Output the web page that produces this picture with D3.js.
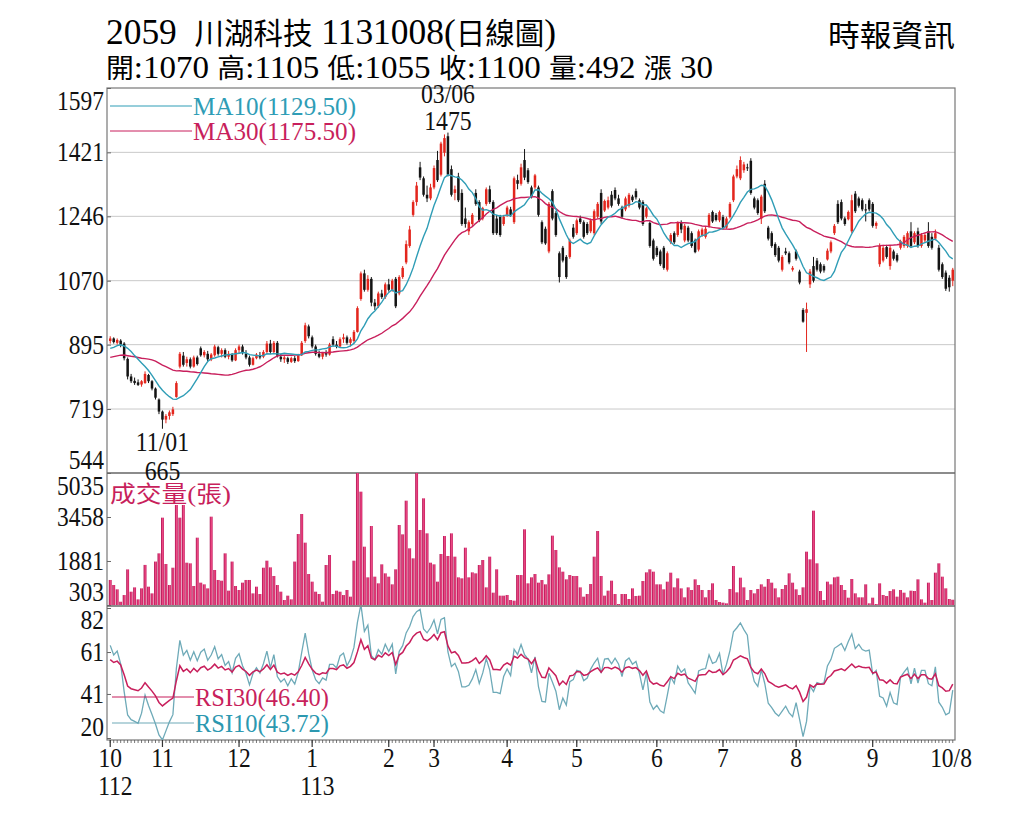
<!DOCTYPE html>
<html>
<head>
<meta charset="utf-8">
<script src="https://cdn.jsdelivr.net/npm/d3@7"></script>
<style>
  body { margin: 0; background: #fff; }
  svg text { font-family: "Liberation Serif", "Noto Sans CJK TC", serif; }
  .cjk { font-family: "Noto Sans CJK TC", sans-serif; }
</style>
</head>
<body>
<div id="chart"></div>
<script>
// daily candles [open, high, low, close] (2023/10 .. 2024/10/08)
const ohlc = [
  [905,918,898,912],[912,915,898,902],[900,912,895,908],[906,910,888,895],[898,902,852,858],
  [856,860,800,808],[808,815,790,795],[796,805,785,790],[792,800,782,785],[786,798,780,795],
  [790,822,788,815],[812,815,790,795],[795,798,770,775],[775,778,745,750],[745,748,705,712],
  [712,715,665,690],[690,705,680,700],[700,715,690,710],[705,725,700,718],[752,795,750,790],
  [835,875,830,870],[865,875,835,840],[845,862,835,855],[855,860,830,835],[835,865,832,860],
  [860,865,838,842],[885,890,862,866],[866,880,860,875],[870,878,850,855],[855,872,850,868],
  [866,895,862,890],[888,892,865,870],[870,885,860,880],[880,885,858,862],[862,878,855,870],
  [868,872,848,852],[852,885,850,880],[880,895,870,890],[890,895,868,872],[870,880,855,860],
  [860,865,835,840],[840,862,838,858],[858,872,855,868],[866,875,855,860],[862,880,858,875],
  [875,905,870,898],[898,908,870,875],[875,905,872,900],[900,905,860,865],[862,870,848,855],
  [855,866,845,860],[858,862,842,848],[848,862,845,858],[858,864,845,850],[850,870,848,866],
  [866,905,864,900],[905,955,900,948],[945,950,912,918],[915,920,885,890],[890,895,865,870],
  [870,878,858,862],[862,875,855,872],[872,880,862,868],[868,900,865,895],[910,918,890,895],
  [895,905,885,890],[890,915,888,910],[910,925,900,915],[915,920,895,900],[900,915,890,910],
  [905,935,900,930],[930,1000,928,995],[1020,1095,1015,1090],[1090,1100,1040,1045],[1045,1085,1040,1075],
  [1075,1080,1000,1010],[1010,1020,990,1000],[1000,1040,995,1035],[1035,1045,1020,1025],[1025,1065,1020,1060],
  [1060,1075,1040,1045],[1045,1075,1040,1070],[1075,1080,995,1000],[1035,1085,1030,1080],[1080,1110,1075,1105],
  [1120,1180,1115,1170],[1165,1220,1160,1210],[1250,1290,1245,1285],[1285,1340,1275,1330],[1380,1395,1345,1352],
  [1350,1355,1300,1305],[1305,1330,1285,1295],[1295,1335,1290,1325],[1325,1385,1320,1378],[1400,1425,1340,1345],
  [1360,1450,1355,1445],[1420,1470,1410,1460],[1465,1475,1355,1360],[1375,1385,1300,1305],[1310,1330,1290,1320],
  [1355,1365,1285,1290],[1310,1320,1220,1225],[1240,1270,1215,1225],[1205,1235,1195,1230],[1225,1255,1220,1250],
  [1310,1320,1275,1280],[1285,1290,1230,1235],[1240,1272,1235,1268],[1280,1325,1275,1320],[1320,1330,1280,1285],
  [1285,1290,1195,1200],[1240,1250,1195,1200],[1245,1250,1190,1195],[1225,1250,1220,1245],[1250,1275,1245,1270],
  [1265,1272,1245,1250],[1230,1355,1225,1350],[1345,1360,1320,1335],[1335,1390,1330,1380],[1400,1430,1345,1352],
  [1372,1378,1335,1340],[1325,1330,1295,1300],[1325,1362,1320,1358],[1325,1330,1245,1250],[1230,1235,1170,1175],
  [1212,1218,1168,1172],[1150,1285,1145,1280],[1315,1320,1235,1240],[1255,1260,1190,1195],[1145,1150,1065,1080],
  [1160,1165,1120,1125],[1135,1140,1075,1080],[1135,1185,1130,1180],[1215,1225,1185,1190],[1200,1240,1195,1235],
  [1240,1248,1225,1230],[1230,1235,1185,1190],[1225,1230,1195,1200],[1205,1240,1200,1235],[1200,1265,1195,1260],
  [1245,1285,1240,1280],[1310,1320,1225,1232],[1262,1292,1258,1288],[1270,1300,1265,1290],[1305,1315,1270,1275],
  [1318,1325,1290,1295],[1295,1305,1275,1280],[1270,1275,1240,1245],[1265,1300,1260,1295],[1275,1310,1270,1305],
  [1300,1305,1285,1290],[1315,1322,1292,1298],[1290,1295,1265,1270],[1285,1290,1220,1225],[1245,1272,1240,1268],
  [1228,1232,1160,1165],[1180,1185,1125,1130],[1160,1165,1135,1140],[1150,1155,1110,1115],[1160,1165,1100,1105],
  [1100,1150,1095,1145],[1175,1200,1170,1195],[1200,1205,1170,1175],[1195,1232,1190,1228],[1230,1235,1200,1210],
  [1180,1225,1175,1220],[1215,1220,1175,1180],[1200,1205,1160,1165],[1180,1185,1145,1148],[1155,1210,1150,1205],
  [1195,1215,1190,1210],[1190,1218,1185,1212],[1220,1255,1215,1250],[1258,1262,1228,1232],[1250,1255,1232,1236],
  [1235,1262,1230,1258],[1244,1250,1210,1215],[1215,1245,1212,1240],[1244,1285,1240,1280],[1290,1360,1285,1355],
  [1355,1385,1350,1375],[1350,1410,1345,1400],[1372,1395,1365,1388],[1380,1390,1370,1378],[1398,1405,1305,1310],
  [1295,1300,1265,1270],[1290,1295,1250,1255],[1240,1305,1225,1300],[1335,1345,1255,1260],[1215,1220,1180,1185],
  [1200,1205,1160,1165],[1170,1175,1135,1140],[1160,1165,1120,1125],[1100,1140,1095,1135],[1150,1160,1140,1145],
  [1145,1150,1115,1120],[1100,1110,1095,1105],[1150,1155,1125,1130],[1095,1100,1060,1065],[990,995,955,958],
  [982,1010,875,992],[1060,1102,1050,1095],[1110,1135,1065,1070],[1125,1132,1095,1100],[1115,1120,1090,1095],
  [1110,1115,1092,1098],[1128,1158,1125,1152],[1150,1180,1145,1175],[1200,1225,1195,1220],[1280,1290,1225,1230],
  [1285,1292,1235,1240],[1240,1245,1220,1225],[1238,1262,1235,1258],[1205,1305,1200,1290],[1308,1315,1255,1260],
  [1295,1300,1270,1275],[1290,1295,1260,1265],[1265,1280,1232,1262],[1290,1295,1260,1265],[1280,1285,1215,1220],
  [1220,1232,1212,1228],[1115,1172,1108,1165],[1125,1168,1120,1160],[1162,1168,1130,1135],[1110,1165,1100,1160],
  [1150,1155,1125,1130],[1140,1145,1120,1125],[1160,1182,1155,1178],[1165,1195,1160,1190],[1165,1205,1160,1200],
  [1205,1230,1160,1165],[1175,1205,1170,1200],[1205,1215,1160,1165],[1165,1200,1160,1195],[1180,1200,1175,1195],
  [1205,1230,1160,1165],[1190,1200,1155,1160],[1185,1210,1180,1200],[1160,1168,1095,1100],[1115,1120,1075,1080],
  [1092,1098,1042,1048],[1078,1085,1040,1052],[1070,1105,1055,1100]
];

// daily volume (張)
const volume = [
  1200,1020,865,420,660,1580,780,935,505,900,1740,960,720,1860,2155,3434,1773,1020,1640,3888,
  3434,3888,1820,1797,984,2717,1104,1044,900,3470,1558,1200,1175,2155,817,1860,984,841,1104,1200,
  1200,720,960,697,1640,1892,1653,1343,1020,781,482,638,506,1860,2848,3565,2538,1414,1140,780,
  697,422,1737,2095,697,817,780,660,841,602,1892,5600,4366,2394,1295,3135,1319,1080,1761,1438,
  1319,1044,1582,3171,2836,4043,2335,1976,5600,2992,4127,2872,1820,1761,1140,2131,2777,2060,2872,2036,
  1295,1259,2358,1295,1474,1438,1737,1916,936,2036,745,1582,638,638,662,482,458,1378,1378,3016,
  1080,1295,1414,1104,1199,1044,1402,2789,2275,1653,1498,1223,1378,1343,1343,936,602,697,1056,2036,
  2956,1343,638,817,1175,697,339,697,697,518,900,626,638,1163,1474,1582,1498,1044,1044,865,
  1140,1462,936,1259,900,578,936,841,1223,1020,841,578,841,1080,482,410,387,363,877,1701,
  757,1283,936,482,841,721,877,1044,960,1235,1104,900,578,877,1020,1438,1104,865,662,936,
  2215,1940,3685,1797,805,482,1140,1044,1295,1319,1020,841,566,1235,721,578,578,1044,363,566,
  339,1080,662,626,805,865,602,841,745,578,817,805,1223,506,387,1104,482,1462,1797,1319,
  900,518,492
];

// closes before the first candle, estimated from where MA10 / MA30 start (warm-up only)
const preClose = [850,838,852,835,848,860,842,830,845,858,846,832,840,855,868,
                  850,838,852,864,848,858,875,860,872,890,872,884,900,885,898];

const monthIdx = [0, 15, 37, 58, 80, 93, 114, 134, 157, 176, 197, 219];
const monthLabels = ["10", "11", "12", "1", "2", "3", "4", "5", "6", "7", "8", "9"];
const yearLabels = [{ idx: 0, text: "112" }, { idx: 58, text: "113" }];
const lastLabel = "10/8";

const priceTicks = [544, 719, 895, 1070, 1246, 1421, 1597];
const volTicks = [303, 1881, 3458, 5035];
const rsiTicks = [20, 41, 61, 82];

// values printed in the legends of the picture
const maLegendValues = [1129.5, 1175.5];
const rsiLegendValues = [46.4, 43.72];

const highDate = "03/06";
const lowDate = "11/01";

const W = 1024, H = 819;
const left = 108, right = 955;
const priceTop = 88, priceBot = 473, volTop = 473, volBot = 605, rsiTop = 607, rsiBot = 740;

const red = "#e3261d", black = "#141414";
const teal = "#2f9db6", crimson = "#c81f5c", rsiTeal = "#6eaab8";

const svg = d3.select("#chart").append("svg").attr("width", W).attr("height", H);

const N = ohlc.length;
const close = ohlc.map((d) => d[3]);
const series = preClose.concat(close);
const P = preClose.length;

const movingAvg = (n) =>
  close.map((c, i) => d3.mean(series.slice(P + i - n + 1, P + i + 1)));

const rsi = (n) => {
  const up = [], dn = [];
  for (let k = 1; k < series.length; k++) {
    const d = series[k] - series[k - 1];
    up[k] = Math.max(d, 0);
    dn[k] = Math.max(-d, 0);
  }
  let au = d3.mean(up.slice(1, n + 1));
  let ad = d3.mean(dn.slice(1, n + 1));
  const out = [];
  for (let k = n; k < series.length; k++) {
    if (k > n) {
      au = (au * (n - 1) + up[k]) / n;
      ad = (ad * (n - 1) + dn[k]) / n;
    }
    if (k >= P) out[k - P] = (100 * au) / (au + ad);
  }
  return out;
};

const ma10 = movingAvg(10), ma30 = movingAvg(30);
const rsi10 = rsi(10), rsi30 = rsi(30);

const x = d3.scaleBand().domain(d3.range(N)).range([left, right]).padding(0.28);
const cx = (i) => x(i) + x.bandwidth() / 2;
const yP = d3.scaleLinear().domain([544, 1597]).range([priceBot, priceTop]);
const yV = d3.scaleLinear().domain([303, 5035]).range([volBot, volTop]);
const yR = d3.scaleLinear().domain([20, 82]).range([738, 608]);

// clip paths
const defs = svg.append("defs");
[["clipP", priceTop, priceBot], ["clipV", volTop, volBot], ["clipR", rsiTop, rsiBot]].forEach(
  ([id, t, b]) => {
    defs.append("clipPath").attr("id", id).append("rect")
      .attr("x", left).attr("y", t).attr("width", right - left).attr("height", b - t);
  }
);
const grad = defs.append("linearGradient").attr("id", "volGrad").attr("x1", 0).attr("x2", 1);
grad.append("stop").attr("offset", "0%").attr("stop-color", "#a8104e");
grad.append("stop").attr("offset", "55%").attr("stop-color", "#f04a86");
grad.append("stop").attr("offset", "100%").attr("stop-color", "#c2165a");

// text helper: condensed serif look
function txt(g, px, py, s, size, opts = {}) {
  return g.append("text")
    .attr("transform", `translate(${px},${py}) scale(${opts.sx || 0.87},1)`)
    .attr("text-anchor", opts.anchor || "start")
    .attr("font-size", size)
    .attr("fill", opts.fill || "#111")
    .text(s);
}

// grid lines in price panel
svg.append("g")
  .selectAll("line")
  .data(priceTicks.slice(1, -1))
  .join("line")
  .attr("x1", left).attr("x2", right)
  .attr("y1", (d) => yP(d)).attr("y2", (d) => yP(d))
  .attr("stroke", "#c9c9c9").attr("stroke-width", 1);

// frame
svg.append("rect").attr("x", left - 1).attr("y", priceTop).attr("width", right - left + 1)
  .attr("height", rsiBot - priceTop).attr("fill", "none").attr("stroke", "#777").attr("stroke-width", 1.2);
[priceBot, rsiTop - 1].forEach((yy) => {
  svg.append("line").attr("x1", left - 1).attr("x2", right).attr("y1", yy).attr("y2", yy)
    .attr("stroke", "#666").attr("stroke-width", 1.6);
});

// left axes ticks
const tickAxis = (scale, vals) =>
  d3.axisLeft(scale).tickValues(vals).tickSize(-4).tickFormat("");
[[yP, priceTicks], [yV, volTicks], [yR, rsiTicks]].forEach(([s, v]) => {
  const g = svg.append("g").attr("transform", `translate(${left - 1},0)`).call(tickAxis(s, v));
  g.select(".domain").remove();
  g.selectAll("line").attr("stroke", "#666");
});

// y labels, the ones at the panel edges pushed inside
function yLabels(scale, vals, top, bot) {
  vals.forEach((v) => {
    const c = Math.min(Math.max(scale(v), top + 13), bot - 13);
    txt(svg, left - 4, c + 9, v, 27, { anchor: "end" });
  });
}
yLabels(yP, priceTicks, priceTop, priceBot);
yLabels(yV, volTicks, volTop, volBot);
yLabels(yR, rsiTicks, rsiTop, rsiBot);

// candles
const gc = svg.append("g").attr("clip-path", "url(#clipP)");
const candle = gc.selectAll("g.c").data(ohlc).join("g").attr("class", "c");
candle.append("line")
  .attr("x1", (d, i) => cx(i)).attr("x2", (d, i) => cx(i))
  .attr("y1", (d) => yP(d[1])).attr("y2", (d) => yP(d[2]))
  .attr("stroke", (d) => (d[3] >= d[0] ? red : black)).attr("stroke-width", 1);
candle.append("rect")
  .attr("x", (d, i) => x(i))
  .attr("width", x.bandwidth())
  .attr("y", (d) => yP(Math.max(d[0], d[3])))
  .attr("height", (d) => Math.max(1, Math.abs(yP(d[0]) - yP(d[3]))))
  .attr("fill", (d) => (d[3] >= d[0] ? red : black));

// moving averages
const lineOf = (arr, scale) => d3.line().x((d, i) => cx(i)).y((d) => scale(d))(arr);
gc.append("path").attr("d", lineOf(ma30, yP)).attr("fill", "none").attr("stroke", crimson).attr("stroke-width", 1.4);
gc.append("path").attr("d", lineOf(ma10, yP)).attr("fill", "none").attr("stroke", teal).attr("stroke-width", 1.4);

// high / low annotations
const hiIdx = d3.maxIndex(ohlc, (d) => d[1]);
const loIdx = d3.minIndex(ohlc, (d) => d[2]);
const hiY = yP(ohlc[hiIdx][1]), loY = yP(ohlc[loIdx][2]);
txt(svg, cx(hiIdx), hiY - 30, highDate, 27, { anchor: "middle", sx: 0.88 });
txt(svg, cx(hiIdx), hiY - 3, ohlc[hiIdx][1], 27, { anchor: "middle", sx: 0.88 });
txt(svg, cx(loIdx), loY + 22, lowDate, 27, { anchor: "middle", sx: 0.88 });
txt(svg, cx(loIdx), loY + 51, ohlc[loIdx][2], 27, { anchor: "middle", sx: 0.88 });

// MA legend
const legend = [
  { y: 106, color: teal, text: `MA10(${maLegendValues[0].toFixed(2)})` },
  { y: 131, color: crimson, text: `MA30(${maLegendValues[1].toFixed(2)})` }
];
legend.forEach((l) => {
  svg.append("line").attr("x1", 110).attr("x2", 192).attr("y1", l.y).attr("y2", l.y)
    .attr("stroke", l.color).attr("stroke-width", 1);
  svg.append("text").attr("x", 193).attr("y", l.y + 9).attr("font-size", 25)
    .attr("textLength", 163).attr("lengthAdjust", "spacingAndGlyphs")
    .attr("fill", l.color).text(l.text);
});

// volume
const gv = svg.append("g").attr("clip-path", "url(#clipV)");
gv.selectAll("rect").data(volume).join("rect")
  .attr("x", (d, i) => x(i) - 0.2)
  .attr("width", x.bandwidth() + 0.4)
  .attr("y", (d) => yV(d))
  .attr("height", (d) => Math.max(1, volBot - yV(d)))
  .attr("fill", "url(#volGrad)");
const vt = svg.append("text").attr("x", 110).attr("y", 502).attr("font-size", 24)
  .attr("fill", crimson).attr("textLength", 121).attr("lengthAdjust", "spacingAndGlyphs");
vt.append("tspan").attr("class", "cjk").attr("font-size", 23).text("成交量");
vt.append("tspan").text("(");
vt.append("tspan").attr("class", "cjk").attr("font-size", 23).text("張");
vt.append("tspan").text(")");

// RSI
const gr = svg.append("g").attr("clip-path", "url(#clipR)");
gr.append("path").attr("d", lineOf(rsi10, yR)).attr("fill", "none").attr("stroke", rsiTeal).attr("stroke-width", 1.3);
gr.append("path").attr("d", lineOf(rsi30, yR)).attr("fill", "none").attr("stroke", crimson).attr("stroke-width", 1.5);

const rsiLegend = [
  { y: 697, color: crimson, text: `RSI30(${rsiLegendValues[0].toFixed(2)})` },
  { y: 723, color: "#2c98b0", line: rsiTeal, text: `RSI10(${rsiLegendValues[1].toFixed(2)})` }
];
rsiLegend.forEach((l) => {
  svg.append("line").attr("x1", 112).attr("x2", 194).attr("y1", l.y).attr("y2", l.y)
    .attr("stroke", l.line || l.color).attr("stroke-width", 1.2);
  svg.append("text").attr("x", 195).attr("y", l.y + 9).attr("font-size", 26)
    .attr("textLength", 134).attr("lengthAdjust", "spacingAndGlyphs")
    .attr("fill", l.color).text(l.text);
});

// x axis
const xa = svg.append("g").attr("transform", `translate(0,${rsiBot})`)
  .call(d3.axisBottom(x).tickValues(d3.range(N)).tickSize(3).tickFormat(""));
xa.select(".domain").remove();
xa.selectAll("line").attr("stroke", "#555").attr("stroke-width", 0.8);
const xm = svg.append("g").attr("transform", `translate(0,${rsiBot})`)
  .call(d3.axisBottom(x).tickValues(monthIdx).tickSize(7).tickFormat(""));
xm.select(".domain").remove();
xm.selectAll("line").attr("stroke", "#333").attr("stroke-width", 1.2);

monthIdx.forEach((idx, k) => {
  txt(svg, cx(idx), 767, monthLabels[k], 27, { anchor: "middle" });
});
txt(svg, right - 4, 767, lastLabel, 27, { anchor: "middle" });
yearLabels.forEach((yl) => {
  txt(svg, cx(yl.idx) - 12, 795, yl.text, 27);
});

// header
const t1 = svg.append("text").attr("x", 106).attr("y", 44).attr("font-size", 36)
  .attr("textLength", 450).attr("lengthAdjust", "spacingAndGlyphs").style("white-space", "pre");
t1.append("tspan").text("2059  ");
t1.append("tspan").attr("class", "cjk").attr("font-size", 30).text("川湖科技");
t1.append("tspan").text(" 1131008(");
t1.append("tspan").attr("class", "cjk").attr("font-size", 30).text("日線圖");
t1.append("tspan").text(")");

const quote = [["開", ":1070 "], ["高", ":1105 "], ["低", ":1055 "], ["收", ":1100 "], ["量", ":492 "], ["漲", " 30"]];
const t2 = svg.append("text").attr("x", 106).attr("y", 78).attr("font-size", 32)
  .attr("textLength", 607).attr("lengthAdjust", "spacingAndGlyphs").style("white-space", "pre");
quote.forEach(([k, v]) => {
  t2.append("tspan").attr("class", "cjk").attr("font-size", 27).text(k);
  t2.append("tspan").text(v);
});

svg.append("text").attr("class", "cjk").attr("x", 828).attr("y", 46).attr("font-size", 30)
  .attr("textLength", 127).attr("lengthAdjust", "spacingAndGlyphs").text("時報資訊");
</script>
</body>
</html>
